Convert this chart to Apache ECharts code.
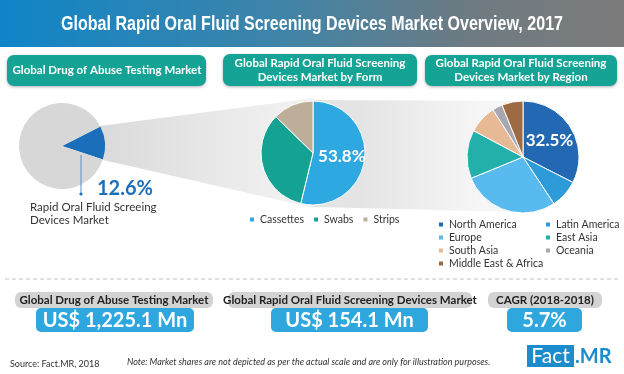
<!DOCTYPE html>
<html><head><meta charset="utf-8">
<script src="https://cdn.jsdelivr.net/npm/echarts@6/dist/echarts.min.js"></script>
<style>html,body{margin:0;padding:0;background:#fff}#c{width:624px;height:374px}</style>
</head><body><div id="c"></div>
<script>
const titleText = 'Global Rapid Oral Fluid Screening Devices Market Overview, 2017';
const headerTexts = ['Global Drug of Abuse Testing Market', 'Global Rapid Oral Fluid Screening\nDevices Market by Form', 'Global Rapid Oral Fluid Screening\nDevices Market by Region'];
const overallNames = ['Rapid Oral Fluid Screeing Devices Market', 'Other'];
const overallShares = [12.6, 87.4];
const overallLabel = 'Rapid Oral Fluid Screeing\nDevices Market';
const formNames = ['Cassettes', 'Swabs', 'Strips'];
const formShares = [53.8, 33.5, 12.7];
const regionNames = ['North America', 'Latin America', 'Europe', 'East Asia', 'South Asia', 'Oceania', 'Middle East & Africa'];
const regionShares = [32.5, 8.2, 28.1, 14.0, 8.2, 2.9, 6.1];
const kpiLabels = ['Global Drug of Abuse Testing Market', 'Global Rapid Oral Fluid Screening Devices Market', 'CAGR (2018-2018)'];
const kpiValues = ['US$ 1,225.1 Mn', 'US$ 154.1 Mn', '5.7%'];
const sourceText = 'Source: Fact.MR, 2018';
const noteText = 'Note: Market shares are not depicted as per the actual scale and are only for illustration purposes.';

const overallColors = ['#1b6fba', '#d7d7d7'];
const formColors = ['#2ea8e0', '#14a393', '#bcae98'];
const regionColors = ['#2268b2', '#2c9bd8', '#58baee', '#23b0ab', '#e8b995', '#a8a8b0', '#9d6a44'];

const FONT = 'Lato, "Open Sans", sans-serif';
function measure(text, font) {
  const c = document.createElement('canvas').getContext('2d');
  c.font = font; return c.measureText(text).width;
}
const titleFont = 'bold 21px "Liberation Sans"';
const titleScale = 502 / measure(titleText, titleFont);

const chart = echarts.init(document.getElementById('c'), null, {renderer: 'canvas'});

const graphics = [];
// title bar
graphics.push({type: 'rect', z: 0, shape: {x: 0, y: 0, width: 624, height: 47},
  style: {fill: {type: 'linear', x: 0, y: 0, x2: 1, y2: 0, colorStops: [
    {offset: 0, color: '#0f85c8'}, {offset: 0.45, color: '#3f84a8'}, {offset: 0.75, color: '#6e7b82'}, {offset: 1, color: '#7b7b7b'}]}}});
graphics.push({type: 'text', z: 1, x: 312, y: 24, scaleX: titleScale, scaleY: 1,
  style: {text: titleText, x: 0, y: 0, textAlign: 'center', textVerticalAlign: 'middle', font: titleFont, fill: '#fff'}});
// header boxes
const hdr = [[7, 55, 199, 31, 107], [223, 54, 194, 32, 320], [425, 55, 192, 31, 521]];
hdr.forEach((h, i) => {
  graphics.push({type: 'rect', z: 1, shape: {x: h[0], y: h[1], width: h[2], height: h[3], r: 7},
    style: {fill: '#14a394', shadowBlur: 3, shadowColor: 'rgba(0,0,0,0.3)', shadowOffsetY: 1}});
  graphics.push({type: 'text', z: 2, style: {text: headerTexts[i], x: h[4], y: h[1] + h[3] / 2, textAlign: 'center', textVerticalAlign: 'middle',
    fontFamily: FONT, fontWeight: 'bold', fontSize: 11.5, lineHeight: 14, fill: '#fff'}});
});
// funnels
graphics.push({type: 'polygon', z: 0, shape: {points: [[100, 126], [314, 98], [314, 208], [103, 160]]},
  style: {fill: {type: 'linear', global: true, x: 100, y: 0, x2: 290, y2: 0, colorStops: [{offset: 0, color: '#dadada'}, {offset: 1, color: '#f1f1f1'}]}}});
graphics.push({type: 'polygon', z: 0, shape: {points: [[314, 100], [523, 101], [523, 212], [314, 207]]},
  style: {fill: {type: 'linear', global: true, x: 360, y: 0, x2: 480, y2: 0, colorStops: [{offset: 0, color: '#e4e4e4'}, {offset: 1, color: '#f6f6f6'}]}}});
// leader line for left pie
graphics.push({type: 'line', z: 5, shape: {x1: 81, y1: 155, x2: 81, y2: 193}, style: {stroke: '#5b8fc4', lineWidth: 1}});
graphics.push({type: 'circle', z: 5, shape: {cx: 81, cy: 194, r: 1.6}, style: {fill: '#1b6fba'}});
graphics.push({type: 'text', z: 5, style: {text: overallShares[0].toFixed(1) + '%', x: 97, y: 189, textVerticalAlign: 'middle',
  fontFamily: FONT, fontWeight: 'bold', fontSize: 20, fill: '#1b6fba'}});
graphics.push({type: 'text', z: 5, style: {text: overallLabel, x: 30, y: 214, textVerticalAlign: 'middle',
  fontFamily: FONT, fontSize: 11.5, lineHeight: 13.5, fill: '#333'}});
// dashed separator
graphics.push({type: 'line', z: 1, shape: {x1: 5, y1: 279, x2: 618, y2: 279}, style: {stroke: '#c4c4c4', lineWidth: 1, lineDash: [4, 3]}});
// KPI boxes
const kpi = [[15, 198, 36, 158], [228, 244, 271, 157], [488, 114, 507, 75]];
kpi.forEach((k, i) => {
  graphics.push({type: 'rect', z: 1, shape: {x: k[0], y: 292, width: k[1], height: 16, r: 6}, style: {fill: '#d3d3d3'}});
  graphics.push({type: 'text', z: 2, style: {text: kpiLabels[i], x: k[0] + k[1] / 2, y: 300.5, textAlign: 'center', textVerticalAlign: 'middle',
    fontFamily: FONT, fontWeight: 'bold', fontSize: 11.5, fill: '#222'}});
  graphics.push({type: 'rect', z: 1, shape: {x: k[2], y: 308, width: k[3], height: 24, r: 5}, style: {fill: '#2ea6de'}});
  graphics.push({type: 'text', z: 2, style: {text: kpiValues[i], x: k[2] + k[3] / 2, y: 320.5, textAlign: 'center', textVerticalAlign: 'middle',
    fontFamily: FONT, fontWeight: 'bold', fontSize: 20, fill: '#fff'}});
});
// footer
graphics.push({type: 'text', z: 2, style: {text: sourceText, x: 10, y: 364, textVerticalAlign: 'middle', fontFamily: FONT, fontSize: 9, fill: '#333'}});
graphics.push({type: 'text', z: 2, style: {text: noteText, x: 127, y: 362, textVerticalAlign: 'middle', fontFamily: FONT, fontStyle: 'italic', fontSize: 9, fill: '#333'}});
graphics.push({type: 'rect', z: 1, shape: {x: 527, y: 345, width: 47, height: 22}, style: {fill: '#1b8ccc'}});
graphics.push({type: 'text', z: 2, style: {text: 'Fact', x: 550.5, y: 356.5, textAlign: 'center', textVerticalAlign: 'middle', fontFamily: FONT, fontSize: 21, fill: '#fff'}});
graphics.push({type: 'text', z: 2, style: {text: '.MR', x: 575, y: 356.5, textVerticalAlign: 'middle', fontFamily: FONT, fontWeight: 'bold', fontSize: 20, fill: '#1b8ccc'}});

const legendText = {fontFamily: FONT, fontSize: 10.5, color: '#333', lineHeight: 13};

const option = {
  animation: false,
  backgroundColor: '#fff',
  graphic: {elements: graphics},
  legend: [
    {data: formNames, left: 248, top: 213, itemGap: 8, icon: 'rect', itemWidth: 6, itemHeight: 6, textStyle: legendText, padding: 0},
    {data: [regionNames[0], regionNames[2], regionNames[4], regionNames[6]], orient: 'vertical', left: 437, top: 218, itemGap: 0,
      icon: 'rect', itemWidth: 6, itemHeight: 6, textStyle: legendText, padding: 0},
    {data: [regionNames[1], regionNames[3], regionNames[5]], orient: 'vertical', left: 544, top: 218, itemGap: 0,
      icon: 'rect', itemWidth: 6, itemHeight: 6, textStyle: legendText, padding: 0}
  ],
  series: [
    {type: 'pie', center: [62, 146], radius: [0, 43], startAngle: 27, silent: true, label: {show: false}, labelLine: {show: false},
      data: overallNames.map((n, i) => ({name: n, value: overallShares[i], itemStyle: {color: overallColors[i]}}))},
    {type: 'pie', center: [313, 153], radius: [0, 52], startAngle: 90, silent: true, labelLine: {show: false},
      itemStyle: {borderColor: '#fff', borderWidth: 1},
      data: formNames.map((n, i) => ({name: n, value: formShares[i], itemStyle: {color: formColors[i]},
        label: {show: i === 0, position: 'inside', formatter: p => p.value.toFixed(1) + '%', color: '#fff', fontFamily: FONT, fontWeight: 'bold', fontSize: 17}}))},
    {type: 'pie', center: [523, 157], radius: [0, 56], startAngle: 90, silent: true, labelLine: {show: false},
      itemStyle: {borderColor: '#fff', borderWidth: 1},
      data: regionNames.map((n, i) => ({name: n, value: regionShares[i], itemStyle: {color: regionColors[i]},
        label: {show: i === 0, position: 'inside', formatter: p => p.value.toFixed(1) + '%', color: '#fff', fontFamily: FONT, fontWeight: 'bold', fontSize: 17}}))}
  ]
};
chart.setOption(option);
</script></body></html>
